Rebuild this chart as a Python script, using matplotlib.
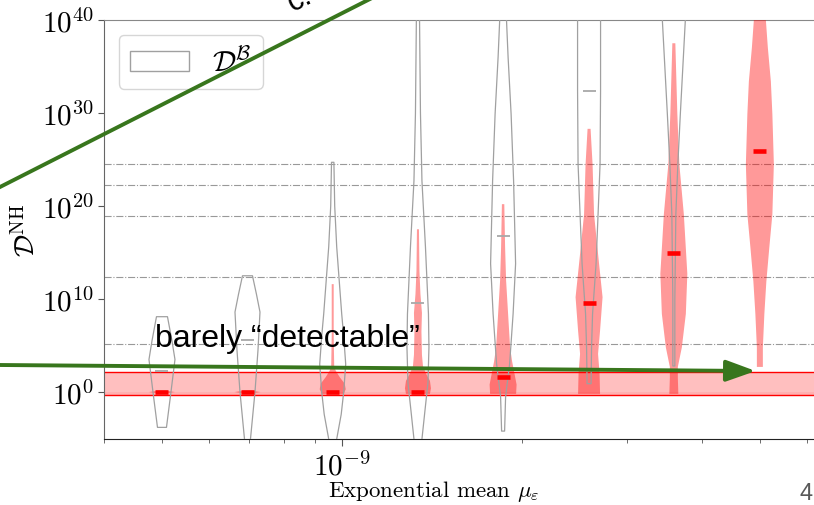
import numpy as np
import matplotlib
matplotlib.use('Agg')
from matplotlib import pyplot as plt
from matplotlib.patches import Patch
from matplotlib.lines import Line2D
from matplotlib.ticker import LogLocator, NullLocator, NullFormatter

plt.rcParams['font.family'] = 'serif'
plt.rcParams['font.serif'] = ['cmr10']
plt.rcParams['mathtext.fontset'] = 'cm'
plt.rcParams['axes.formatter.use_mathtext'] = True

# exponential mean of each violin
mu_eps = [5.0e-10, 6.95e-10, 9.65e-10, 1.34e-9, 1.86e-9, 2.59e-9, 3.59e-9, 5.0e-9]

# D^B violins: log10(D) levels and density (half width) at each level
gray_levels = [
  [-3.8, 0, 3.5, 5.5, 8.1],
  [-6, -5.05, 0, 4.5, 8.6, 10.5, 12.5],
  [-6, -5.05, -2.4, 0, 3, 6, 8.4, 12, 15.6, 20, 24.7],
  [-6, -5.05, -2, 1, 4.8, 8.4, 15.6, 22.7, 30, 41],
  [-4.2, -0.5, 3, 8.4, 13.8, 22.7, 29.9, 36, 41],
  [0.9, 4.8, 8.4, 13.8, 19.1, 24.5, 32.4, 41],
  [2.8, 10, 19.1, 24.5, 29.9, 40, 42],
  [],
]
gray_dens = [
  [4.5, 9, 13, 10, 5.5],
  [2.5, 3, 7.5, 10.5, 12.5, 9, 5],
  [3, 4, 8.5, 11, 13, 11, 9, 6.5, 4, 2, 1.2],
  [3.5, 4, 7, 10, 11, 10.5, 7.5, 4, 2.5, 1.5],
  [1.5, 2.5, 6.5, 10, 12.5, 10.5, 8, 5, 3],
  [2, 2.5, 3.5, 7, 9, 11, 11.5, 11.5],
  [1, 1, 2, 4, 6.5, 11.5, 12],
  [],
]
gray_median = [2.25, 5.6, None, 9.6, 16.8, 32.4, None, None]

# D^NH violins
red_levels = [
  [-0.15, 0, 0.15],
  [-0.15, 0, 0.15],
  [-0.2, 0.3, 0.9, 1.6, 2.3, 2.8, 6, 11.6],
  [-0.2, 0.4, 1.2, 2.0, 2.8, 4, 6.5, 8.5, 10.5, 13, 17.5],
  [-0.2, 0.8, 2.2, 3.3, 4.8, 8.4, 12, 15.6, 20.2],
  [-0.2, 2, 4.1, 6.6, 10.2, 13.8, 19.1, 24.5, 28.3],
  [-0.2, 1.5, 2.7, 4.8, 8.4, 12.7, 19.1, 24.5, 29.9, 37.5],
  [2.7, 4.8, 8.4, 11.9, 15.6, 19.1, 24.5, 29.9, 33.4, 37, 40, 42],
]
red_dens = [
  [4, 13, 4],
  [4, 13, 4],
  [11, 13, 12, 7, 3, 1.5, 1, 1],
  [12, 13, 12, 8, 5, 4, 3.5, 4, 2.5, 1.5, 1],
  [13, 13.5, 11, 9, 7, 5, 3, 2, 1.2],
  [11, 10.5, 9, 11, 13.5, 10, 5, 3.5, 1.5],
  [4.5, 4, 4, 8, 12, 13.5, 10, 5.5, 3.5, 1.5],
  [3, 3, 4.5, 6.5, 9.5, 12.5, 14, 12.5, 11, 8, 6, 4],
]
red_median = [0.0, 0.0, 0.0, 0.0, 1.6, 9.6, 15.0, 25.9]

# horizontal reference levels (log10)
ref_levels = [24.5, 22.3, 18.96, 12.4, 5.15]
band_low, band_high = 0.5, 128
band_inner = 1.0

dens_unit = 1 / 598  # density unit -> decades of x
med_half = 6.5

fig = plt.figure(figsize=(8.14, 5.06), dpi=100)
ax = fig.add_axes([104/814, 66/506, 736/814, 419/506])
ax.set_xscale('log')
ax.set_yscale('log')
ax.set_xlim(10**-9.398, 10**-8.167)
ax.set_ylim(10**-5.05, 1e40)

for lv in ref_levels:
  ax.axhline(10**lv, color='#999999', lw=0.8, ls='-.', zorder=1)

ax.axhspan(band_low, band_high, color='red', alpha=0.25, lw=0, zorder=1)
ax.axhspan(band_low, band_inner, color='red', alpha=0.08, lw=0, zorder=1)
ax.axhline(band_low, color='red', lw=1.0, zorder=2)
ax.axhline(band_high, color='red', lw=1.0, zorder=2)

def violin(pos, levels, dens, **kw):
  if len(levels) == 0:
    return
  y = 10**np.array(levels)
  w = np.array(dens) * dens_unit
  ax.fill_betweenx(y, pos * 10**(-w), pos * 10**w, **kw)

for i, pos in enumerate(mu_eps):
  violin(pos, red_levels[i], red_dens[i], facecolor='red', alpha=0.4, lw=0, zorder=3)
  violin(pos, gray_levels[i], gray_dens[i], facecolor='none', edgecolor='#a0a0a0', lw=0.9, zorder=4)
  h = 10**(med_half * dens_unit)
  if gray_median[i] is not None:
    ax.hlines(10**gray_median[i], pos / h, pos * h, color='#a8a8a8', lw=1.3, zorder=5)
  ax.hlines(10**red_median[i], pos / h, pos * h, color='red', lw=3.3, zorder=6)

ax.yaxis.set_major_locator(plt.FixedLocator([1e0, 1e10, 1e20, 1e30, 1e40]))
ax.yaxis.set_minor_locator(NullLocator())
ax.xaxis.set_major_locator(plt.FixedLocator([1e-9]))
ax.xaxis.set_minor_locator(LogLocator(base=10, subs=np.arange(2, 10), numticks=20))
ax.xaxis.set_minor_formatter(NullFormatter())
ax.tick_params(axis='both', which='major', labelsize=21, color='#555555')
ax.tick_params(axis='y', length=4)
ax.tick_params(axis='x', which='major', length=5)
ax.tick_params(axis='x', which='minor', length=3, color='#555555')

ax.spines['right'].set_visible(False)
ax.spines['top'].set_color('#888888')
ax.spines['left'].set_color('#666666')
ax.spines['bottom'].set_color('#222222')

ax.set_xlabel(r'Exponential mean $\mu_\varepsilon$', fontsize=16.5)
ax.xaxis.set_label_coords(0.448, -0.092)
ax.set_ylabel(r'$\mathcal{D}^{\mathrm{NH}}$', fontsize=20)
ax.yaxis.set_label_coords(-0.086, 0.5)

ax.legend(handles=[Patch(facecolor='white', edgecolor='#a0a0a0')], labels=[r'$\mathcal{D}^{\mathcal{B}}$'],
          loc='upper left', fontsize=21)

# slide annotations
green = '#38761d'
fig.add_artist(Line2D([0, 430/814], [318/506, 1 + 30.5/506], transform=fig.transFigure, color=green, lw=2.8, clip_on=False))
fig.text(293/814, 494/506, 'c.', fontsize=22, family='Liberation Sans', rotation=27,
         rotation_mode='anchor', ha='left', va='baseline')
ax.annotate('', xy=(4.92e-9, 10**2.26), xycoords='data', xytext=(0, 140), textcoords='figure pixels',
            arrowprops=dict(arrowstyle='-|>,head_length=1.8,head_width=0.65', color=green, lw=2.8,
                            shrinkA=0, shrinkB=0), annotation_clip=False, zorder=8)
fig.text(155/814, 159/506, 'barely \u201cdetectable\u201d', fontsize=23, family='Liberation Sans',
         ha='left', va='baseline', zorder=9)
fig.text(800/814, 6/506, '4', fontsize=17, family='Liberation Sans', color='#595959', ha='left', va='baseline')

fig.savefig('out.png', dpi=100)
